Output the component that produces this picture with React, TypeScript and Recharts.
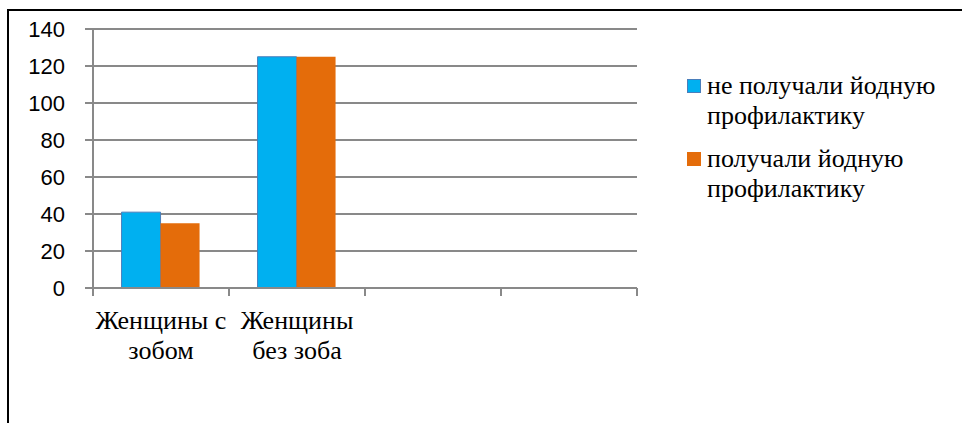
import { BarChart, Bar, XAxis, YAxis, CartesianGrid, Legend } from "recharts";

// categories (two empty slots, as in the original sheet)
const categories = ["Женщины с зобом", "Женщины без зоба", "", ""];
const categoryLines = [["Женщины с", "зобом"], ["Женщины", "без зоба"], [], []];
const notReceived = [41, 125, null, null];
const received = [35, 125, null, null];
const seriesNames = ["не получали йодную профилактику", "получали йодную профилактику"];
const legendLines = [["не получали йодную", "профилактику"], ["получали йодную", "профилактику"]];
const yTicks = [0, 20, 40, 60, 80, 100, 120, 140];

const data = categories.map((name, i) => ({
  name,
  a: notReceived[i],
  b: received[i],
}));

const GRID = "#898989";
const BLUE = "#00B0F0";
const ORANGE = "#E46C0A";
const SERIF = "'Liberation Serif', 'Times New Roman', serif";

// category label + tick marks between categories (Excel style)
function CategoryTick(props: any) {
  const { x, y, index, width, visibleTicksCount } = props;
  const lines = categoryLines[index] || [];
  const band = width / visibleTicksCount;
  const left = x - band / 2;
  return (
    <g>
      <line x1={left} x2={left} y1={y} y2={y + 8} stroke={GRID} strokeWidth={2} />
      {index === visibleTicksCount - 1 && (
        <line x1={left + band} x2={left + band} y1={y} y2={y + 8} stroke={GRID} strokeWidth={2} />
      )}
      {lines.map((line, k) => (
        <text
          key={k}
          x={x}
          y={y + 41 + k * 30}
          textAnchor="middle"
          style={{ fontFamily: SERIF, fontSize: 26 }}
          fill="#000"
        >
          {line}
        </text>
      ))}
    </g>
  );
}

function LegendBox() {
  const colors = [BLUE, ORANGE];
  return (
    <div style={{ fontFamily: SERIF, fontSize: 26, color: "#000", lineHeight: "30px" }}>
      {seriesNames.map((name, i) => (
        <div key={name} style={{ display: "flex", alignItems: "flex-start", marginBottom: i === 0 ? 13 : 0 }}>
          <span
            style={{
              display: "inline-block",
              width: 14,
              height: 14,
              background: colors[i],
              border: i === 0 ? "1px solid #4A7EBB" : "none",
              boxSizing: "border-box",
              marginTop: 8,
              marginRight: 6,
              flex: "none",
            }}
          />
          <span>
            {legendLines[i].map((l) => (
              <div key={l} style={{ whiteSpace: "nowrap" }}>{l}</div>
            ))}
          </span>
        </div>
      ))}
    </div>
  );
}

export default function App() {
  return (
    <div style={{ position: "absolute", left: 0, top: 0, width: 962, height: 423, background: "#fff", overflow: "hidden" }}>
      <div
        style={{
          position: "absolute",
          left: 7,
          top: 9,
          width: 960,
          height: 420,
          borderTop: "2px solid #000",
          borderLeft: "2px solid #000",
        }}
      />
      <BarChart
        width={962}
        height={423}
        data={data}
        margin={{ top: 29, right: 325, bottom: 55, left: 0 }}
        barCategoryGap="21%"
        barGap={0}
      >
        <CartesianGrid vertical={false} stroke={GRID} strokeWidth={2} />
        <XAxis
          dataKey="name"
          height={80}
          tickLine={false}
          axisLine={{ stroke: GRID, strokeWidth: 2 }}
          tickSize={0}
          tickMargin={0}
          interval={0}
          tick={<CategoryTick />}
        />
        <YAxis
          width={93}
          domain={[0, 140]}
          ticks={yTicks}
          interval={0}
          tickSize={8}
          tickMargin={20}
          tickLine={{ stroke: GRID, strokeWidth: 2 }}
          axisLine={{ stroke: GRID, strokeWidth: 2 }}
          tick={{ fill: "#000", fontSize: 22, fontFamily: "Liberation Sans" }}
        />
        <Legend
          layout="vertical"
          align="center"
          verticalAlign="middle"
          wrapperStyle={{ left: 687, top: 71, width: 270 }}
          content={<LegendBox />}
        />
        <Bar dataKey="a" name={seriesNames[0]} fill={BLUE} stroke="#4A7EBB" strokeWidth={1} isAnimationActive={false} />
        <Bar dataKey="b" name={seriesNames[1]} fill={ORANGE} isAnimationActive={false} />
      </BarChart>
    </div>
  );
}
